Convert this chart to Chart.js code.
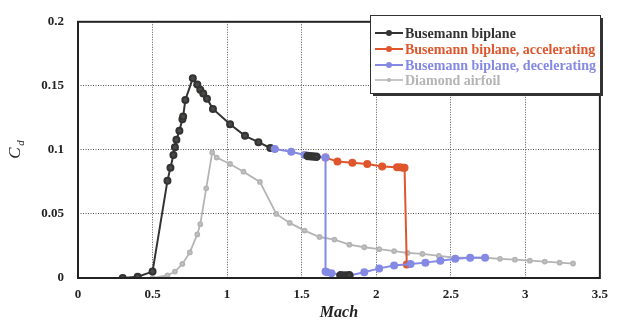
<!DOCTYPE html>
<html>
<head>
<meta charset="utf-8">
<script src="https://cdn.jsdelivr.net/npm/chart.js@4.4.1/dist/chart.umd.min.js"></script>
<style>
  html, body { margin: 0; padding: 0; background: #fff; }
</style>
</head>
<body>
<canvas id="chart" width="617" height="322"></canvas>
<script>
// values
const xTicks = [0, 0.5, 1, 1.5, 2, 2.5, 3, 3.5];
const xTickLabels = ['0', '0.5', '1', '1.5', '2', '2.5', '3', '3.5'];
const yTicks = [0, 0.05, 0.1, 0.15, 0.2];
const yTickLabels = ['0', '0.05', '0.1', '0.15', '0.2'];

const busemannMach = [0.3, 0.4, 0.5, 0.6, 0.62, 0.64, 0.65, 0.66, 0.68, 0.70, 0.705, 0.72, 0.77, 0.80, 0.82, 0.84, 0.865, 0.905, 1.02, 1.12, 1.21, 1.29];
const busemannCd = [0, 0.001, 0.005, 0.076, 0.086, 0.096, 0.102, 0.108, 0.115, 0.124, 0.126, 0.139, 0.156, 0.151, 0.147, 0.144, 0.140, 0.132, 0.120, 0.111, 0.106, 0.1015];

// short dark runs inside the hysteresis loop
const jumpMach = [1.54, 1.56, 1.58, 1.60, 1.70, 1.76, 1.78, 1.80, 1.82];
const jumpCd = [0.0952, 0.095, 0.0948, 0.0946, null, 0.0022, 0.002, 0.002, 0.0022];

const accelMach = [1.66, 1.74, 1.84, 1.94, 2.04, 2.14, 2.16, 2.18, 2.19, 2.205];
const accelCd = [0.094, 0.091, 0.090, 0.089, 0.087, 0.0865, 0.0865, 0.086, 0.086, 0.0105];

const decelMach = [2.73, 2.63, 2.53, 2.43, 2.33, 2.23, 2.12, 2.02, 1.92, 1.82, 1.70, 1.67, 1.66, 1.66, 1.52, 1.43, 1.32];
const decelCd = [0.0158, 0.0158, 0.015, 0.0135, 0.012, 0.011, 0.0098, 0.0075, 0.0045, 0.002, 0.0037, 0.0045, 0.005, 0.094, 0.096, 0.0985, 0.1007];

const diamondMach = [0.3, 0.4, 0.5, 0.6, 0.65, 0.7, 0.75, 0.8, 0.82, 0.86, 0.9, 0.93, 1.02, 1.11, 1.22, 1.33, 1.42, 1.52, 1.62, 1.72, 1.82, 1.92, 2.02, 2.12, 2.21, 2.31, 2.42, 2.53, 2.63, 2.73, 2.83, 2.93, 3.03, 3.13, 3.23, 3.32];
const diamondCd = [0, 0, 0, 0.002, 0.005, 0.011, 0.02, 0.034, 0.042, 0.07, 0.098, 0.094, 0.089, 0.083, 0.075, 0.050, 0.043, 0.037, 0.032, 0.030, 0.026, 0.024, 0.0225, 0.021, 0.0196, 0.0188, 0.0173, 0.0158, 0.0158, 0.0158, 0.015, 0.0143, 0.0135, 0.0128, 0.012, 0.0113];

const legendLabels = ['Busemann biplane', 'Busemann biplane, accelerating', 'Busemann biplane, decelerating', 'Diamond airfoil'];
const seriesColors = ['#333333', '#e0562c', '#8489e4', '#b4b4b4'];

function toPoints(xs, ys) {
    return xs.map(function (x, i) { return { x: x, y: ys[i] }; });
}

const serif = '"Liberation Serif", "Times New Roman", serif';

// frame, y title and the boxed legend are drawn by hand
const extras = {
    id: 'extras',
    afterDraw: function (chart) {
        const ctx = chart.ctx;
        const a = chart.chartArea;
        ctx.save();

        // plot frame
        ctx.strokeStyle = '#222';
        ctx.lineWidth = 2;
        ctx.strokeRect(a.left, a.top, a.right - a.left, a.bottom - a.top);

        // y title: C with subscript d
        ctx.fillStyle = '#222';
        ctx.translate(16, 153);
        ctx.rotate(-Math.PI / 2);
        ctx.textAlign = 'center';
        ctx.textBaseline = 'middle';
        ctx.font = 'italic 17px ' + serif;
        ctx.fillText('C', 0, 0);
        ctx.font = 'italic 11px ' + serif;
        ctx.fillText('d', 10, 5);
        ctx.setTransform(1, 0, 0, 1, 0, 0);

        // legend box with a shadow on the right and bottom
        const bx = 370, by = 15, bw = 230, bh = 78;
        ctx.fillStyle = '#333';
        ctx.fillRect(bx + 3, by + 3, bw, bh);
        ctx.fillStyle = '#fff';
        ctx.fillRect(bx, by, bw, bh);
        ctx.strokeStyle = '#333';
        ctx.lineWidth = 1;
        ctx.strokeRect(bx + 0.5, by + 0.5, bw, bh);

        const rows = [33, 49, 65, 80];
        ctx.font = 'bold 14px ' + serif;
        ctx.textAlign = 'left';
        ctx.textBaseline = 'middle';
        legendLabels.forEach(function (label, i) {
            const y = rows[i];
            ctx.strokeStyle = seriesColors[i];
            ctx.lineWidth = i === 3 ? 1.5 : 2;
            ctx.beginPath();
            ctx.moveTo(375, y);
            ctx.lineTo(403, y);
            ctx.stroke();
            ctx.fillStyle = seriesColors[i];
            ctx.beginPath();
            ctx.arc(389, y, i === 3 ? 2 : 3, 0, Math.PI * 2);
            ctx.fill();
            ctx.fillText(label, 405, y + 1);
        });
        ctx.restore();
    }
};

const gridColor = function (c) {
    return (c.index === 0 || c.tick.value === 3.5 || c.tick.value === 0.2) ? 'rgba(0,0,0,0)' : '#555';
};

new Chart(document.getElementById('chart'), {
    type: 'scatter',
    data: {
        datasets: [
            {
                label: 'jump',
                data: toPoints(jumpMach, jumpCd),
                showLine: true,
                borderColor: '#333',
                backgroundColor: '#444',
                borderWidth: 3,
                pointRadius: 2.8,
                order: 0
            },
            {
                label: legendLabels[0],
                data: toPoints(busemannMach, busemannCd),
                showLine: true,
                borderColor: seriesColors[0],
                backgroundColor: '#4a4a44',
                borderWidth: 2,
                pointRadius: 3,
                order: 3
            },
            {
                label: legendLabels[1],
                data: toPoints(accelMach, accelCd),
                showLine: true,
                borderColor: seriesColors[1],
                backgroundColor: seriesColors[1],
                borderWidth: 2,
                pointRadius: 3,
                order: 2
            },
            {
                label: legendLabels[2],
                data: toPoints(decelMach, decelCd),
                showLine: true,
                borderColor: seriesColors[2],
                backgroundColor: seriesColors[2],
                borderWidth: 2,
                pointRadius: 3,
                order: 1
            },
            {
                label: legendLabels[3],
                data: toPoints(diamondMach, diamondCd),
                showLine: true,
                borderColor: seriesColors[3],
                backgroundColor: '#c4c4c4',
                borderWidth: 1.8,
                pointRadius: 2,
                order: 4
            }
        ]
    },
    options: {
        responsive: false,
        animation: false,
        layout: { padding: { left: 0, top: 12, right: 17, bottom: 0 } },
        plugins: {
            legend: { display: false },
            tooltip: { enabled: false }
        },
        scales: {
            x: {
                type: 'linear',
                min: 0,
                max: 3.5,
                afterBuildTicks: function (s) { s.ticks = xTicks.map(function (v) { return { value: v }; }); },
                afterFit: function (s) { s.height = 44; },
                border: { display: false, dash: [1, 1.5] },
                grid: { color: gridColor, lineWidth: 1, drawTicks: false },
                ticks: {
                    padding: 9, color: '#222', maxRotation: 0,
                    font: { family: serif, size: 13, weight: 'bold' },
                    callback: function (v, i) { return xTickLabels[i]; }
                },
                title: { display: true, text: 'Mach', color: '#222', padding: { top: 2, bottom: 0 }, font: { family: serif, size: 16, style: 'italic', weight: 'bold' } }
            },
            y: {
                type: 'linear',
                min: 0,
                max: 0.2,
                afterBuildTicks: function (s) { s.ticks = yTicks.map(function (v) { return { value: v }; }); },
                afterFit: function (s) { s.width = 78; },
                border: { display: false, dash: [1, 1.5] },
                grid: { color: gridColor, lineWidth: 1, drawTicks: false },
                ticks: {
                    padding: 14, color: '#222',
                    font: { family: serif, size: 13, weight: 'bold' },
                    callback: function (v, i) { return yTickLabels[i]; }
                }
            }
        }
    },
    plugins: [extras]
});
</script>
</body>
</html>
